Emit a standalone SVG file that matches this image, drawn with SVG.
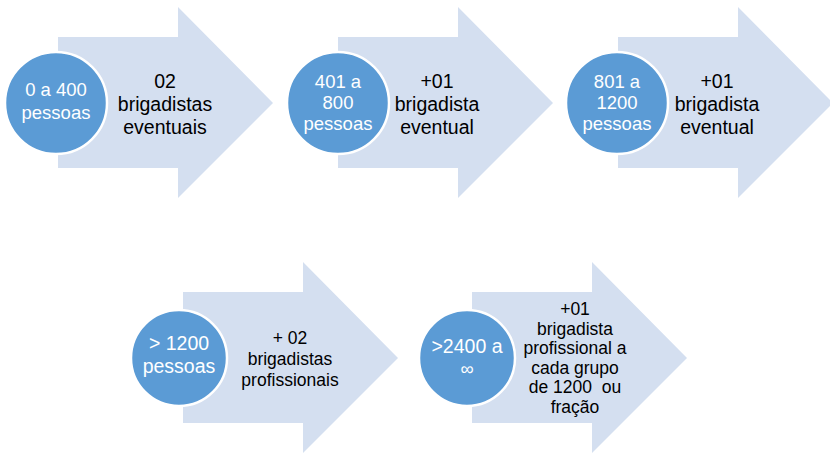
<svg xmlns="http://www.w3.org/2000/svg" width="830" height="455" viewBox="0 0 830 455">
<defs>
<style>
.arrow{fill:#d4dff0;}
.circ{fill:#5b9bd5;stroke:#ffffff;stroke-width:2.5;}
.ct{font-family:"Liberation Sans",Arial,sans-serif;font-size:18.5px;fill:#ffffff;text-anchor:middle;}
.ct2{font-family:"Liberation Sans",Arial,sans-serif;font-size:19.5px;fill:#ffffff;text-anchor:middle;}
.at{font-family:"Liberation Sans",Arial,sans-serif;font-size:19.5px;fill:#000000;text-anchor:middle;}
.at2{font-family:"Liberation Sans",Arial,sans-serif;font-size:17.5px;fill:#000000;text-anchor:middle;}
</style>
<path id="arr1" d="M0,30 L120,30 L120,0 L215,96 L120,191 L120,161 L0,161 Z"/>
</defs>
<rect width="830" height="455" fill="#ffffff"/>
<g id="connectors"/>
<g id="step1">
<use href="#arr1" class="arrow" x="58" y="7"/>
<circle class="circ" cx="56" cy="103" r="51"/>
<text class="ct" x="56" y="96">0 a 400</text>
<text class="ct" x="56" y="119">pessoas</text>
<text class="at" x="165" y="88">02</text>
<text class="at" x="165" y="111">brigadistas</text>
<text class="at" x="165" y="134">eventuais</text>
</g>
<g id="step2">
<use href="#arr1" class="arrow" x="338" y="7"/>
<circle class="circ" cx="338" cy="103" r="51"/>
<text class="ct" x="338" y="88">401 a</text>
<text class="ct" x="338" y="109">800</text>
<text class="ct" x="338" y="130">pessoas</text>
<text class="at" x="437" y="88">+01</text>
<text class="at" x="437" y="111">brigadista</text>
<text class="at" x="437" y="134">eventual</text>
</g>
<g id="step3">
<use href="#arr1" class="arrow" x="618" y="7"/>
<circle class="circ" cx="617" cy="103" r="51"/>
<text class="ct" x="617" y="88">801 a</text>
<text class="ct" x="617" y="109">1200</text>
<text class="ct" x="617" y="130">pessoas</text>
<text class="at" x="717" y="88">+01</text>
<text class="at" x="717" y="111">brigadista</text>
<text class="at" x="717" y="134">eventual</text>
</g>
<g id="step4">
<use href="#arr1" class="arrow" x="183" y="262"/>
<circle class="circ" cx="179" cy="358" r="48"/>
<text class="ct2" x="179" y="350">&gt; 1200</text>
<text class="ct2" x="179" y="373">pessoas</text>
<text class="at2" x="290" y="344">+ 02</text>
<text class="at2" x="290" y="365">brigadistas</text>
<text class="at2" x="290" y="386">profissionais</text>
</g>
<g id="step5">
<use href="#arr1" class="arrow" x="472" y="262"/>
<circle class="circ" cx="467" cy="358" r="48"/>
<text class="ct2" x="467" y="353">&gt;2400 a</text>
<text class="ct" x="467" y="375">∞</text>
<text class="at2" x="575" y="315">+01</text>
<text class="at2" x="575" y="334.5">brigadista</text>
<text class="at2" x="575" y="354">profissional a</text>
<text class="at2" x="575" y="373.5">cada grupo</text>
<text class="at2" x="575" y="393">de 1200&#160; ou</text>
<text class="at2" x="575" y="412.5">fração</text>
</g>
</svg>
